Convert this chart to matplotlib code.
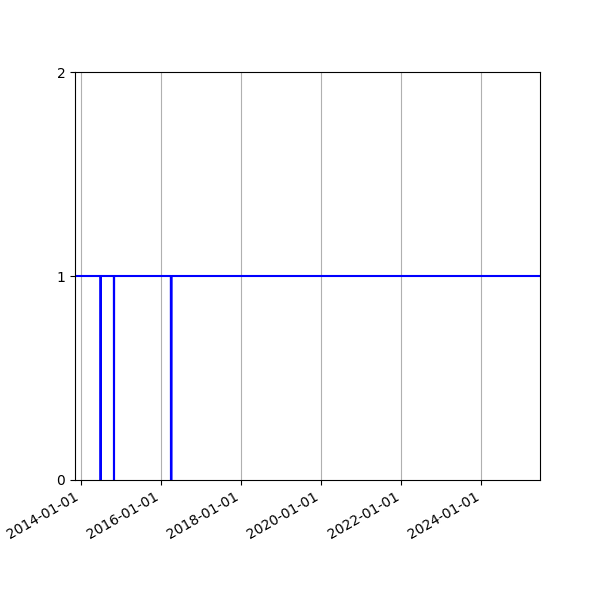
import pandas as pd
import matplotlib
matplotlib.use('Agg')
import matplotlib.pyplot as plt
import matplotlib.dates as mdates

# status signal: 1 = up, 0 = down (only the change points are listed)
dates = ['2013-11-05', '2014-06-26', '2014-06-27', '2014-06-28',
         '2014-10-26', '2014-10-27', '2014-10-28',
         '2016-03-29', '2016-03-30', '2016-04-04', '2016-04-05',
         '2025-06-20']
status = [1, 1, 0, 1,
          1, 0, 1,
          1, 0, 0, 1,
          1]

data = pd.DataFrame({'date': pd.to_datetime(dates), 'status': status})

fig, ax = plt.subplots(figsize=(6, 6), dpi=100)
ax.plot(data['date'], data['status'], color='b', linewidth=1.5)
ax.set_xlim(data['date'].iloc[0], data['date'].iloc[-1])
ax.set_ylim(0, 2)
ax.set_yticks([0, 1, 2])
ax.xaxis.set_major_locator(mdates.YearLocator(2))
ax.xaxis.set_major_formatter(mdates.DateFormatter('%Y-%m-%d'))
ax.grid(axis='x', color='#b0b0b0')
fig.autofmt_xdate()

plt.savefig('out.png')
